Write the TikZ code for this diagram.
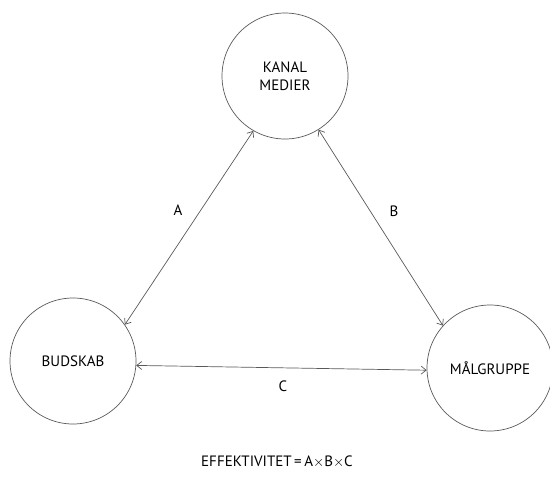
\documentclass[tikz,border=0pt]{standalone}
\usepackage{fontspec}
\setmainfont{PT Sans}
\usetikzlibrary{arrows.meta,positioning}

\begin{document}
\begin{tikzpicture}[x = 1pt, y = -1pt, font = \fontsize{15}{18}\selectfont]
    \useasboundingbox (0,0) rectangle (550,488);
    \tikzset{
        cnode/.style = {circle, draw = black!65, line width = .7pt, minimum size = 126pt, inner sep = 0pt, align = center},
        link/.style = {{Straight Barb[length=5pt,width=8pt]}-{Straight Barb[length=5pt,width=8pt]}, draw = black!65, line width = .7pt}
    }
    \node[cnode] (kanal) at (285,76) {KANAL\\MEDIER};
    \node[cnode] (budskab) at (73,361) {BUDSKAB};
    \node[cnode] (malgruppe) at (490,368) {MÅLGRUPPE};
    \draw[link] (budskab.35) -- (kanal.240);
    \draw[link] (kanal.302) -- (malgruppe.138);
    \draw[link] (budskab.-4) -- (malgruppe.182);
    \node (a) at (178,210) {A};
    \node (b) at (394,211) {B};
    \node (c) at (283,386) {C};
    \node (eff) at (277,462) {EFFEKTIVITET\,=\,A$\times$B$\times$C};
\end{tikzpicture}
\end{document}
